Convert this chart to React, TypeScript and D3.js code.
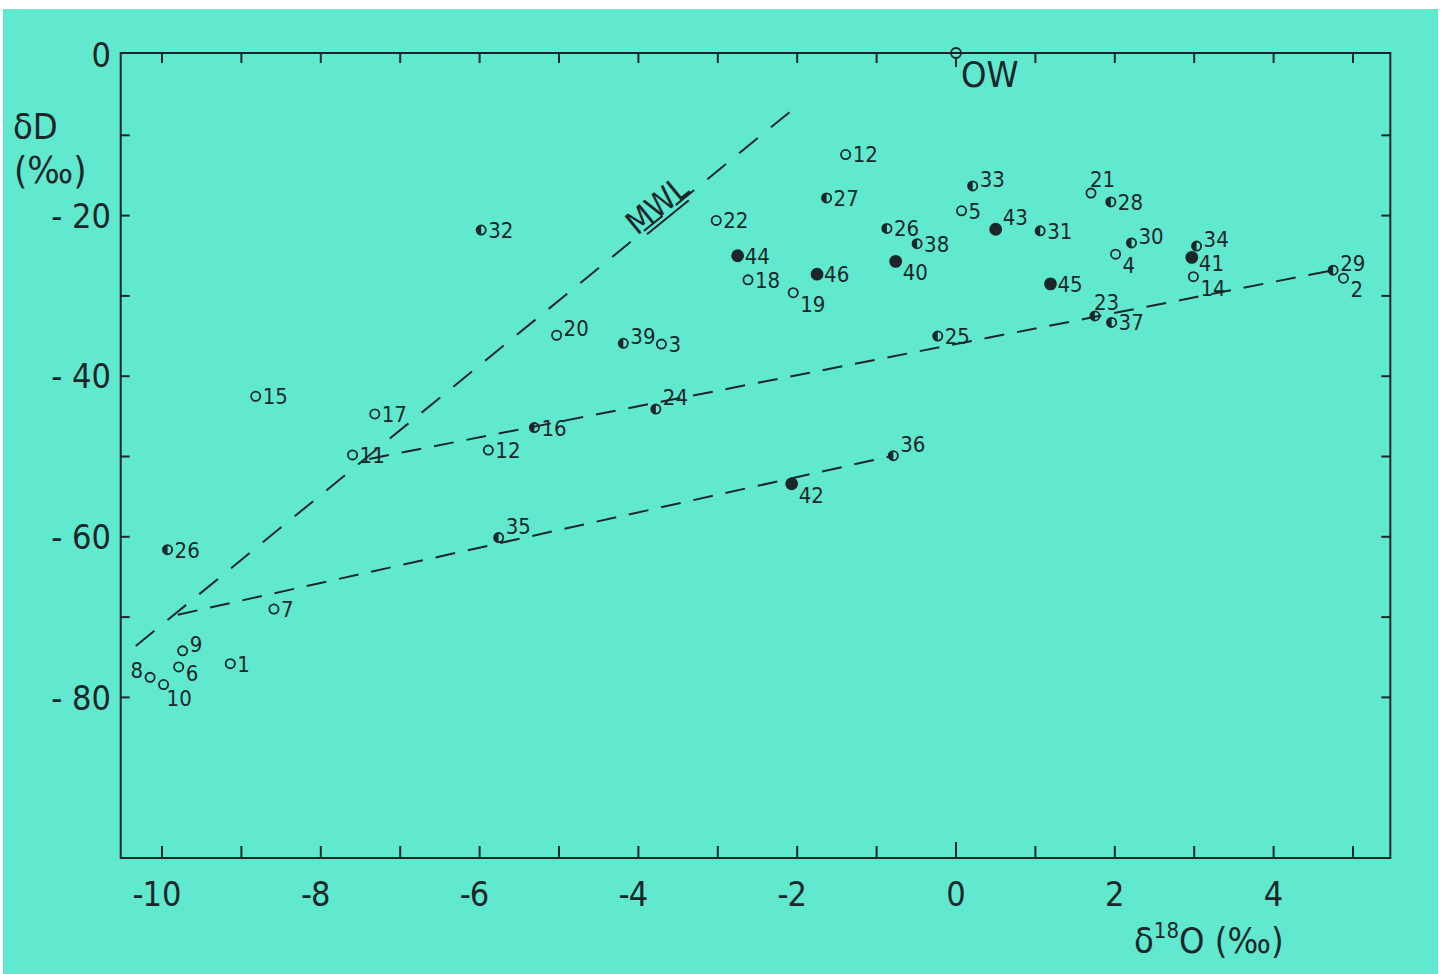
import React, { useEffect, useRef } from "react";
import * as d3 from "d3";

// sample numbers
const sampleIds = [
  "12", "27", "32", "22", "44", "18", "19", "46", "26", "38", "40", "33", "5", "43",
  "31", "21", "28", "30", "4", "34", "41", "14", "45", "23", "37", "29", "2", "25",
  "20", "39", "3", "24", "16", "12", "36", "42", "35", "15", "17", "11", "26", "7",
  "9", "6", "1", "8", "10",
];
// δ18O (‰)
const d18O = [
  -1.39, -1.63, -5.98, -3.02, -2.75, -2.62, -2.05, -1.75, -0.87, -0.49, -0.76, 0.21, 0.07, 0.5,
  1.06, 1.7, 1.95, 2.21, 2.01, 3.03, 2.97, 2.99, 1.19, 1.75, 1.96, 4.75, 4.88, -0.23,
  -5.03, -4.19, -3.71, -3.78, -5.31, -5.89, -0.79, -2.07, -5.76, -8.82, -7.32, -7.6, -9.93, -8.59,
  -9.74, -9.79, -9.14, -10.15, -9.98,
];
// δD (‰)
const dD = [
  -12.4, -17.8, -21.8, -20.6, -25.0, -28.0, -29.6, -27.3, -21.6, -23.5, -25.7, -16.3, -19.4, -21.7,
  -21.9, -17.2, -18.3, -23.4, -24.8, -23.8, -25.2, -27.6, -28.5, -32.5, -33.3, -26.8, -27.8, -35.0,
  -34.9, -35.9, -36.0, -44.1, -46.4, -49.2, -49.9, -53.4, -60.1, -42.5, -44.7, -49.8, -61.6, -69.0,
  -74.2, -76.2, -75.8, -77.5, -78.4,
];
// o = open, h = half filled, f = filled
const symbolType = [
  "o", "h", "h", "o", "f", "o", "o", "f", "h", "h", "f", "h", "o", "f",
  "h", "o", "h", "h", "o", "h", "f", "o", "f", "h", "h", "h", "o", "h",
  "o", "h", "o", "h", "h", "o", "h", "f", "h", "o", "o", "o", "h", "o",
  "o", "o", "o", "o", "o",
];
// where the number sits next to its symbol
const labelSide = [
  "e", "e", "e", "e", "e", "e", "se", "e", "e", "e", "se", "ne", "e", "nne",
  "e", "n", "e", "ne", "se", "ne", "ese", "se", "e", "n", "e", "ne", "se", "e",
  "ne", "ne", "e", "nne", "e", "e", "nne", "se", "nne", "e", "e", "e", "e", "e",
  "ne", "ese", "e", "w", "s",
];

const xTickLabels = [-10, -8, -6, -4, -2, 0, 2, 4];
const xTickMarks = [-10, -9, -8, -7, -6, -5, -4, -3, -2, -1, 0, 1, 2, 3, 4, 5];
const yTickLabels = [0, -20, -40, -60, -80];
const yTickMarks = [-10, -20, -30, -40, -50, -60, -70, -80];

// meteoric water line and the two evaporation lines
const mwlLine = [[-10.33, -73.6], [-2.07, -6.9]];
const upperLine = [[-7.39, -50.3], [4.75, -26.8]];
const lowerLine = [[-9.8, -69.7], [-0.79, -49.9]];
const oceanWater = [0, 0];

const ink = "#1b2729";
const font = "'Liberation Sans Narrow', 'DejaVu Sans Condensed', 'Roboto Condensed', 'Liberation Sans', sans-serif";

const offsets = {
  e: [7, 0, "start"],
  ese: [7, 6, "start"],
  ne: [7, -7, "start"],
  nne: [7, -12, "start"],
  se: [7, 11, "start"],
  s: [3, 14, "start"],
  n: [-1, -14, "start"],
  w: [-7, -7, "end"],
};

const IsotopePlot = () => {
  const ref = useRef(null);

  useEffect(() => {
    const svg = d3.select(ref.current);
    svg.selectAll("*").remove();

    const x = d3.scaleLinear().domain([-10, 5]).range([162, 1353]);
    const y = d3.scaleLinear().domain([0, -100]).range([55, 858]);

    const left = x(-10.52), right = x(5.47), top = y(0.25), bottom = y(-100);

    // paper
    svg.append("rect").attr("width", 1444).attr("height", 974).attr("fill", "#ffffff");
    svg.append("rect").attr("x", 3).attr("y", 9).attr("width", 1435).attr("height", 965).attr("fill", "#61e9cf");

    const g = svg.append("g").attr("stroke", ink).attr("fill", "none").attr("stroke-width", 2);

    // frame
    g.append("rect")
      .attr("x", left).attr("y", top)
      .attr("width", right - left).attr("height", bottom - top);

    // ticks
    xTickMarks.forEach(v => {
      if (v !== 0) {
        g.append("line").attr("x1", x(v)).attr("x2", x(v)).attr("y1", top).attr("y2", top + 10);
      }
      g.append("line").attr("x1", x(v)).attr("x2", x(v))
        .attr("y1", bottom).attr("y2", bottom - (v === 0 ? 16 : 12));
    });
    yTickMarks.forEach(v => {
      g.append("line").attr("x1", left).attr("x2", left + 9).attr("y1", y(v)).attr("y2", y(v));
      g.append("line").attr("x1", right).attr("x2", right - 9).attr("y1", y(v)).attr("y2", y(v));
    });

    // tick labels
    const t = svg.append("g").attr("fill", ink).style("font-family", font).style("font-stretch", "condensed");
    const tickFs = 34;
    xTickLabels.forEach(v => {
      const digits = String(Math.abs(v));
      const num = t.append("text").attr("x", x(v)).attr("y", 906)
        .attr("text-anchor", "middle").attr("font-size", tickFs).text(digits);
      if (v < 0) {
        const half = (num.node() as SVGTextElement).getComputedTextLength() / 2;
        t.append("text").attr("x", x(v) - half + 1).attr("y", 906)
          .attr("text-anchor", "end").attr("font-size", tickFs).text("-");
      }
    });
    yTickLabels.forEach(v => {
      t.append("text").attr("x", 111).attr("y", y(v) + tickFs * 0.36)
        .attr("text-anchor", "end").attr("font-size", tickFs)
        .text(v === 0 ? "0" : "- " + Math.abs(v));
    });

    // axis titles
    t.append("text").attr("x", 13).attr("y", 139).attr("font-size", 36).text("δD");
    t.append("text").attr("x", 14).attr("y", 183).attr("font-size", 38).text("(‰)");
    const xt = t.append("text").attr("x", 1134).attr("y", 953).attr("font-size", 36);
    xt.append("tspan").text("δ");
    xt.append("tspan").attr("font-size", 22).attr("dy", -15).text("18");
    xt.append("tspan").attr("dy", 15).text("O (‰)");

    // dashed lines
    const line = d3.line().x(d => x(d[0])).y(d => y(d[1]));
    g.append("path").attr("d", line(mwlLine)).attr("stroke-dasharray", "24 17");
    g.append("path").attr("d", line(upperLine)).attr("stroke-dasharray", "20 13");
    g.append("path").attr("d", line(lowerLine)).attr("stroke-dasharray", "20 13");

    // MWL label
    const ang = Math.atan2(y(mwlLine[1][1]) - y(mwlLine[0][1]), x(mwlLine[1][0]) - x(mwlLine[0][0])) * 180 / Math.PI;
    const mwl = svg.append("g").attr("transform", `translate(664,214) rotate(${ang})`);
    mwl.append("text").attr("text-anchor", "middle").attr("fill", ink)
      .style("font-family", font).style("font-stretch", "condensed").attr("font-size", 32).text("MWL");
    mwl.append("line").attr("x1", -26).attr("x2", 28).attr("y1", 5).attr("y2", 5)
      .attr("stroke", ink).attr("stroke-width", 2);

    // ocean water
    const ox = x(oceanWater[0]), oy = y(oceanWater[1]) - 2;
    g.append("circle").attr("cx", ox).attr("cy", oy).attr("r", 5).attr("stroke-width", 1.8);
    g.append("line").attr("x1", ox).attr("x2", ox).attr("y1", oy + 5).attr("y2", oy + 14);
    t.append("text").attr("x", ox + 5).attr("y", 87).attr("font-size", 36).text("OW");

    // samples
    const pts = sampleIds.map((id, i) => ({ id, cx: x(d18O[i]), cy: y(dD[i]), type: symbolType[i], side: labelSide[i] }));
    const sym = svg.append("g").attr("stroke", ink).attr("stroke-width", 1.8);
    pts.forEach(p => {
      if (p.type === "f") {
        sym.append("circle").attr("cx", p.cx).attr("cy", p.cy).attr("r", 5.5).attr("fill", ink);
      } else {
        const r = 4.6;
        sym.append("circle").attr("cx", p.cx).attr("cy", p.cy).attr("r", r).attr("fill", "none");
        if (p.type === "h") {
          sym.append("path")
            .attr("d", `M${p.cx},${p.cy - r} A${r},${r} 0 0 0 ${p.cx},${p.cy + r} Z`)
            .attr("fill", ink).attr("stroke", "none");
        }
      }
      const [dx, dy, anchor] = offsets[p.side];
      t.append("text").attr("x", p.cx + dx).attr("y", p.cy + dy + 22 * 0.36)
        .attr("text-anchor", anchor).attr("font-size", 22).text(p.id);
    });
  }, []);

  return (
    <svg ref={ref} width={1444} height={974}
      style={{ position: "absolute", left: 0, top: 0, display: "block" }} />
  );
};

export default function App() {
  return <IsotopePlot />;
}
